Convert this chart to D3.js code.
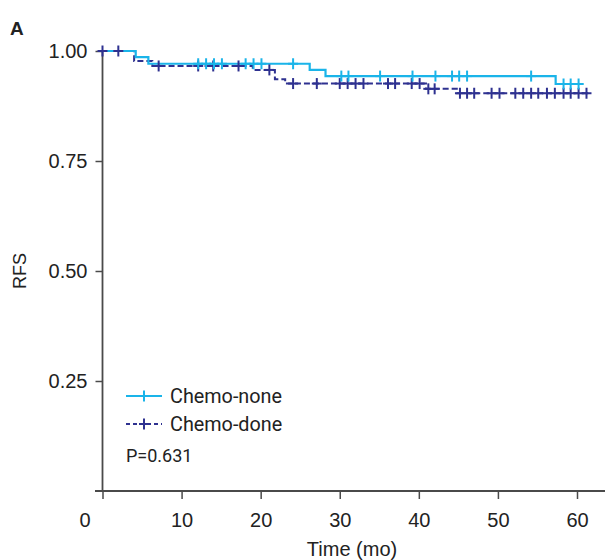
<!DOCTYPE html>
<html>
<head>
<meta charset="utf-8">
<style>
  body { margin: 0; background: #fff; }
  text { font-family: "Liberation Sans", Arial, sans-serif; fill: #222; }
</style>
</head>
<body>
<script src="https://d3js.org/d3.v7.min.js"></script>
<script>
  // ticks
  var xTicks = [0, 10, 20, 30, 40, 50, 60];
  var yTicks = [0.25, 0.5, 0.75, 1.0];

  // Chemo-none: times where the curve steps, level after the step
  var noneTime = [0, 4.2, 5.8, 26.2, 28.2, 57.3];
  var noneSurv = [1, 0.986, 0.971, 0.957, 0.943, 0.925];
  var noneEnd = 60.8;
  var noneCens = [12.1, 13.1, 14.1, 15.1, 18.1, 19.1, 20.1, 24.1, 30.2, 31.1, 35.1, 39.2,
                  42.1, 44.2, 45.1, 46.1, 54.2, 58.3, 59.2, 60.2];

  // Chemo-done
  var doneTime = [0, 4.0, 6.3, 19.0, 21.8, 23.1, 40.9, 44.8];
  var doneSurv = [1, 0.977, 0.966, 0.957, 0.936, 0.926, 0.914, 0.904];
  var doneEnd = 61.6;
  var doneCens = [0, 2, 7.1, 12.1, 14.0, 17.2, 21.1, 24.1, 27.1, 30.0, 31.0, 32.0, 33.0,
                  36.1, 37.0, 39.1, 40.1, 41.2, 42.0, 45.2, 46.1, 47.0, 49.2, 50.2, 52.2,
                  53.2, 54.2, 55.1, 56.2, 57.2, 58.3, 59.2, 60.2, 61.2];

  var cyan = "#1ab4e9";
  var navy = "#2e3190";
  var axisCol = "#4a4a4a";

  var width = 605, height = 560;
  var svg = d3.select("body").append("svg")
      .attr("width", width)
      .attr("height", height);

  var x = d3.scaleLinear().domain([0, 60]).range([102.5, 577]);
  var y = d3.scaleLinear().domain([0, 1]).range([491, 51]);

  // survival level at time t
  function levelAt(times, surv, t) {
    var s = surv[0];
    for (var i = 0; i < times.length; i++) {
      if (times[i] <= t) s = surv[i];
    }
    return s;
  }

  function stepPoints(times, surv, end) {
    var pts = times.map(function(t, i) { return [t, surv[i]]; });
    pts.push([end, surv[surv.length - 1]]);
    return pts;
  }

  var line = d3.line()
      .x(function(d) { return x(d[0]); })
      .y(function(d) { return y(d[1]); })
      .curve(d3.curveStepAfter);

  // axes
  var yAxis = d3.axisLeft(y).tickValues(yTicks).tickSize(7).tickPadding(8)
      .tickFormat(d3.format(".2f"));
  var gy = svg.append("g").attr("transform", "translate(102.5,0)").call(yAxis);
  gy.select(".domain").remove();
  gy.selectAll("line").attr("stroke", axisCol).attr("stroke-width", 1.5);
  gy.selectAll("text").style("font-size", "20px").attr("fill", "#222");
  gy.append("line").attr("x1", 0).attr("x2", 0).attr("y1", y(1)).attr("y2", y(0))
      .attr("stroke", axisCol).attr("stroke-width", 1.8);

  var xAxis = d3.axisBottom(x).tickValues(xTicks).tickSize(8).tickPadding(14)
      .tickFormat(d3.format("d"));
  var gx = svg.append("g").attr("transform", "translate(0,491)").call(xAxis);
  gx.select(".domain").remove();
  gx.selectAll("line").attr("stroke", axisCol).attr("stroke-width", 1.5);
  gx.selectAll("text").style("font-size", "20px").attr("fill", "#222");
  gx.selectAll(".tick").filter(function(d) { return d === 0; })
      .select("text").attr("dx", -18);
  gx.append("line").attr("x1", 95).attr("x2", 605).attr("y1", 0).attr("y2", 0)
      .attr("stroke", axisCol).attr("stroke-width", 1.8);

  // curves
  svg.append("path")
      .datum(stepPoints(doneTime, doneSurv, doneEnd))
      .attr("d", line)
      .attr("fill", "none")
      .attr("stroke", navy)
      .attr("stroke-width", 2)
      .attr("stroke-dasharray", "6,3");

  svg.append("path")
      .datum(stepPoints(noneTime, noneSurv, noneEnd))
      .attr("d", line)
      .attr("fill", "none")
      .attr("stroke", cyan)
      .attr("stroke-width", 2.2);

  function drawCens(list, times, surv, col) {
    var g = svg.append("g");
    list.forEach(function(t) {
      var cx = x(t), cy = y(levelAt(times, surv, t));
      g.append("line").attr("x1", cx).attr("x2", cx).attr("y1", cy - 5.5).attr("y2", cy + 5.5)
          .attr("stroke", col).attr("stroke-width", 2);
      g.append("line").attr("x1", cx - 5).attr("x2", cx + 5).attr("y1", cy).attr("y2", cy)
          .attr("stroke", col).attr("stroke-width", 2);
    });
  }
  drawCens(doneCens, doneTime, doneSurv, navy);
  drawCens(noneCens, noneTime, noneSurv, cyan);

  // legend
  var legend = [
    { name: "Chemo-none", col: cyan, dash: null, y: 396 },
    { name: "Chemo-done", col: navy, dash: "4,3", y: 424 }
  ];
  legend.forEach(function(d) {
    svg.append("line").attr("x1", 126).attr("x2", 162).attr("y1", d.y).attr("y2", d.y)
        .attr("stroke", d.col).attr("stroke-width", 2).attr("stroke-dasharray", d.dash);
    svg.append("line").attr("x1", 144).attr("x2", 144).attr("y1", d.y - 5.5).attr("y2", d.y + 5.5)
        .attr("stroke", d.col).attr("stroke-width", 2);
    svg.append("line").attr("x1", 139).attr("x2", 149).attr("y1", d.y).attr("y2", d.y)
        .attr("stroke", d.col).attr("stroke-width", 2);
    svg.append("text").attr("x", 170).attr("y", d.y + 7)
        .style("font-family", "Roboto, sans-serif").style("font-size", "19.8px")
        .text(d.name);
  });
  svg.append("text").attr("x", 126).attr("y", 462)
      .style("font-family", "Roboto, sans-serif").style("font-size", "18px")
      .text("P=0.631");

  // titles
  svg.append("text").attr("x", 10).attr("y", 35)
      .style("font-size", "19px").style("font-weight", "bold").text("A");
  svg.append("text")
      .attr("transform", "translate(26,271) rotate(-90)")
      .attr("text-anchor", "middle")
      .style("font-size", "18px")
      .text("RFS");
  svg.append("text").attr("x", 352).attr("y", 556)
      .attr("text-anchor", "middle")
      .style("font-size", "20px")
      .text("Time (mo)");
</script>
</body>
</html>
